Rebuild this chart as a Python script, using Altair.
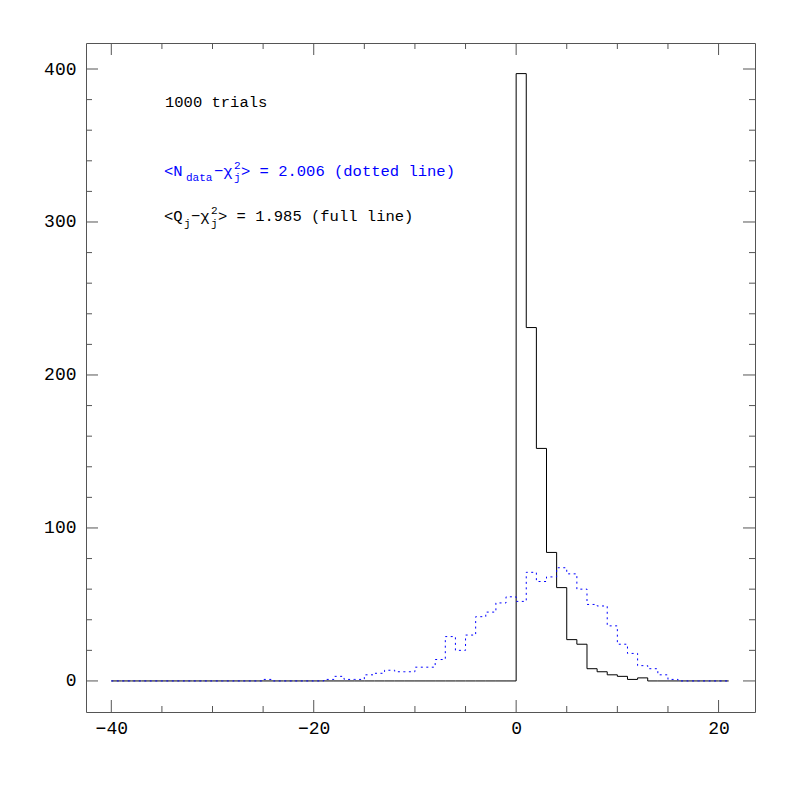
import altair as alt
import pandas as pd

# Histogram bin edges (lower edges -40..20, plus final upper edge 21)
bin_edges = [-40, -39, -38, -37, -36, -35, -34, -33, -32, -31,
             -30, -29, -28, -27, -26, -25, -24, -23, -22, -21,
             -20, -19, -18, -17, -16, -15, -14, -13, -12, -11,
             -10, -9, -8, -7, -6, -5, -4, -3, -2, -1,
             0, 1, 2, 3, 4, 5, 6, 7, 8, 9,
             10, 11, 12, 13, 14, 15, 16, 17, 18, 19,
             20, 21]

# <Q_j - chi2_j> histogram (full line), bins -40..20
full_counts = [0, 0, 0, 0, 0, 0, 0, 0, 0, 0,
               0, 0, 0, 0, 0, 0, 0, 0, 0, 0,
               0, 0, 0, 0, 0, 0, 0, 0, 0, 0,
               0, 0, 0, 0, 0, 0, 0, 0, 0, 0,
               397, 231, 152, 84, 61, 27, 24, 8, 6, 4,
               3, 1, 2, 0, 0, 0, 0, 0, 0, 0,
               0]

# <N_data - chi2_j> histogram (dotted line), bins -40..20
dotted_counts = [0, 0, 0, 0, 0, 0, 0, 0, 0, 0,
                 0, 0, 0, 0, 0, 1, 0, 0, 0, 0,
                 0, 1, 3, 1, 1, 4, 5, 7, 6, 6,
                 9, 9, 14, 29, 20, 30, 42, 45, 51, 55,
                 52, 71, 65, 68, 74, 70, 60, 50, 49, 36,
                 24, 18, 10, 8, 4, 1, 0, 0, 0, 0,
                 0]

x_major = [-40, -20, 0, 20]
x_minor = [-35, -30, -25, -15, -10, -5, 5, 10, 15]
y_major = [0, 100, 200, 300, 400]
y_minor = [20, 40, 60, 80, 120, 140, 160, 180, 220, 240, 260, 280,
           320, 340, 360, 380]

W = 669
H = 669
FONT = "Liberation Mono"
FRAME = "#555555"

full_df = pd.DataFrame({"x": bin_edges, "y": full_counts + [full_counts[-1]]})
dot_df = pd.DataFrame({"x": bin_edges, "y": dotted_counts + [dotted_counts[-1]]})

xscale = alt.Scale(domain=[-42.5, 23.6], nice=False, zero=False)
yscale = alt.Scale(domain=[-20.3, 417], nice=False, zero=False)

xaxis = alt.Axis(values=x_major, ticks=False, domain=False, grid=False, title=None,
                 labelFont=FONT, labelFontSize=18, labelColor="black", labelPadding=7,
                 labelFontWeight="normal", format="d")
yaxis = alt.Axis(values=y_major, ticks=False, domain=False, grid=False, title=None,
                 labelFont=FONT, labelFontSize=18, labelColor="black", labelPadding=10,
                 labelFontWeight="normal", format="d")

full_line = alt.Chart(full_df).mark_line(
    interpolate="step-after", color="black", strokeWidth=1
).encode(
    x=alt.X("x:Q", scale=xscale, axis=xaxis),
    y=alt.Y("y:Q", scale=yscale, axis=yaxis),
)

dot_line = alt.Chart(dot_df).mark_line(
    interpolate="step-after", color="blue", strokeWidth=1, strokeDash=[2, 3.5]
).encode(
    x=alt.X("x:Q", scale=xscale),
    y=alt.Y("y:Q", scale=yscale),
)

def xticks(vals, length):
    df = pd.DataFrame({"v": vals})
    bottom = alt.Chart(df).mark_rule(color=FRAME, strokeWidth=1).encode(
        x=alt.X("v:Q", scale=xscale), y=alt.value(H), y2=alt.value(H - length))
    top = alt.Chart(df).mark_rule(color=FRAME, strokeWidth=1).encode(
        x=alt.X("v:Q", scale=xscale), y=alt.value(0), y2=alt.value(length))
    return [bottom, top]

def yticks(vals, length):
    df = pd.DataFrame({"v": vals})
    left = alt.Chart(df).mark_rule(color=FRAME, strokeWidth=1).encode(
        y=alt.Y("v:Q", scale=yscale), x=alt.value(0), x2=alt.value(length))
    right = alt.Chart(df).mark_rule(color=FRAME, strokeWidth=1).encode(
        y=alt.Y("v:Q", scale=yscale), x=alt.value(W), x2=alt.value(W - length))
    return [left, right]

one = pd.DataFrame({"a": [0]})

def txt(s, x, y, size=15.5, color="black"):
    return alt.Chart(one).mark_text(
        text=s, align="left", baseline="alphabetic", font=FONT,
        fontSize=size, color=color
    ).encode(x=alt.value(x), y=alt.value(y))

BLUE = "blue"
texts = [
    txt("1000 trials", 79, 63.5),
    # <N_data - chi_j^2> = 2.006 (dotted line)
    txt("<N", 78, 132.7, color=BLUE),
    txt("data", 100, 138, size=11, color=BLUE),
    txt("\u2212\u03c7", 128, 132.7, color=BLUE),
    txt("j", 148, 138, size=11, color=BLUE),
    txt("2", 148, 126, size=11, color=BLUE),
    txt("> = 2.006 (dotted line)", 155, 132.7, color=BLUE),
    # <Q_j - chi_j^2> = 1.985 (full line)
    txt("<Q", 78, 177.7),
    txt("j", 98, 184, size=11),
    txt("\u2212\u03c7", 105, 177.7),
    txt("j", 125, 184, size=11),
    txt("2", 125, 171, size=11),
    txt("> = 1.985 (full line)", 132, 177.7),
]

layers = ([full_line, dot_line]
          + xticks(x_major, 12) + xticks(x_minor, 6)
          + yticks(y_major, 12) + yticks(y_minor, 6)
          + texts)

chart = alt.layer(*layers).properties(
    width=W, height=H,
    autosize=alt.AutoSizeParams(type="none"),
    padding={"left": 78, "top": 35, "right": 20, "bottom": 50},
    background="white",
).configure_view(stroke=FRAME, strokeWidth=1)

chart.save("out.html", embed_options={"renderer": "svg", "actions": False})
